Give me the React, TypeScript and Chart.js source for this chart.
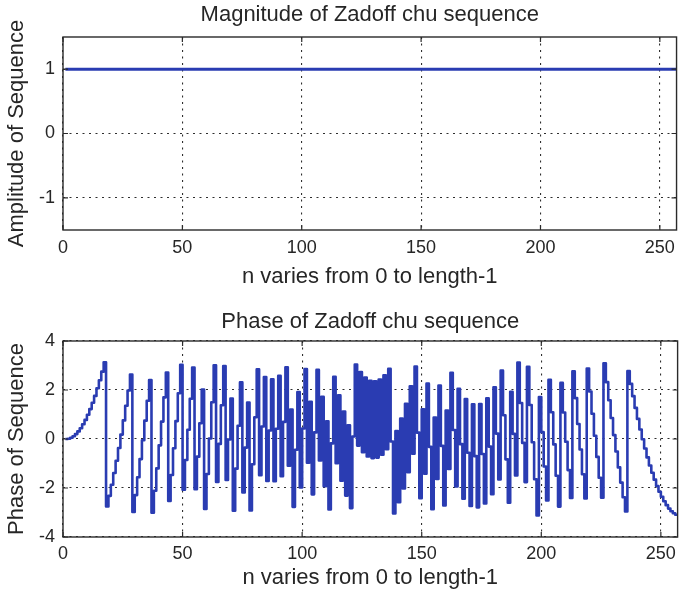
import React, { useEffect, useRef } from 'react';
import { Chart, registerables } from 'chart.js';

Chart.register(...registerables);

// MATLAB sample index (1-based position of n = 0 .. length-1)
const xIndex = [
  1, 2, 3, 4, 5, 6, 7, 8, 9, 10, 11, 12, 13, 14, 15, 16, 17, 18, 19, 20,
  21, 22, 23, 24, 25, 26, 27, 28, 29, 30, 31, 32, 33, 34, 35, 36, 37, 38, 39, 40,
  41, 42, 43, 44, 45, 46, 47, 48, 49, 50, 51, 52, 53, 54, 55, 56, 57, 58, 59, 60,
  61, 62, 63, 64, 65, 66, 67, 68, 69, 70, 71, 72, 73, 74, 75, 76, 77, 78, 79, 80,
  81, 82, 83, 84, 85, 86, 87, 88, 89, 90, 91, 92, 93, 94, 95, 96, 97, 98, 99, 100,
  101, 102, 103, 104, 105, 106, 107, 108, 109, 110, 111, 112, 113, 114, 115, 116, 117, 118, 119, 120,
  121, 122, 123, 124, 125, 126, 127, 128, 129, 130, 131, 132, 133, 134, 135, 136, 137, 138, 139, 140,
  141, 142, 143, 144, 145, 146, 147, 148, 149, 150, 151, 152, 153, 154, 155, 156, 157, 158, 159, 160,
  161, 162, 163, 164, 165, 166, 167, 168, 169, 170, 171, 172, 173, 174, 175, 176, 177, 178, 179, 180,
  181, 182, 183, 184, 185, 186, 187, 188, 189, 190, 191, 192, 193, 194, 195, 196, 197, 198, 199, 200,
  201, 202, 203, 204, 205, 206, 207, 208, 209, 210, 211, 212, 213, 214, 215, 216, 217, 218, 219, 220,
  221, 222, 223, 224, 225, 226, 227, 228, 229, 230, 231, 232, 233, 234, 235, 236, 237, 238, 239, 240,
  241, 242, 243, 244, 245, 246, 247, 248, 249, 250, 251, 252, 253, 254, 255, 256, 257,
];

// |x(n)| — constant amplitude
const magnitude = [
  1, 1, 1, 1, 1, 1, 1, 1, 1, 1, 1, 1, 1, 1, 1, 1, 1, 1, 1, 1,
  1, 1, 1, 1, 1, 1, 1, 1, 1, 1, 1, 1, 1, 1, 1, 1, 1, 1, 1, 1,
  1, 1, 1, 1, 1, 1, 1, 1, 1, 1, 1, 1, 1, 1, 1, 1, 1, 1, 1, 1,
  1, 1, 1, 1, 1, 1, 1, 1, 1, 1, 1, 1, 1, 1, 1, 1, 1, 1, 1, 1,
  1, 1, 1, 1, 1, 1, 1, 1, 1, 1, 1, 1, 1, 1, 1, 1, 1, 1, 1, 1,
  1, 1, 1, 1, 1, 1, 1, 1, 1, 1, 1, 1, 1, 1, 1, 1, 1, 1, 1, 1,
  1, 1, 1, 1, 1, 1, 1, 1, 1, 1, 1, 1, 1, 1, 1, 1, 1, 1, 1, 1,
  1, 1, 1, 1, 1, 1, 1, 1, 1, 1, 1, 1, 1, 1, 1, 1, 1, 1, 1, 1,
  1, 1, 1, 1, 1, 1, 1, 1, 1, 1, 1, 1, 1, 1, 1, 1, 1, 1, 1, 1,
  1, 1, 1, 1, 1, 1, 1, 1, 1, 1, 1, 1, 1, 1, 1, 1, 1, 1, 1, 1,
  1, 1, 1, 1, 1, 1, 1, 1, 1, 1, 1, 1, 1, 1, 1, 1, 1, 1, 1, 1,
  1, 1, 1, 1, 1, 1, 1, 1, 1, 1, 1, 1, 1, 1, 1, 1, 1, 1, 1, 1,
  1, 1, 1, 1, 1, 1, 1, 1, 1, 1, 1, 1, 1, 1, 1, 1, 1,
];

// angle(x(n)) in radians
const phase = [
  0, 0.01, 0.05, 0.11, 0.2, 0.31, 0.44, 0.6, 0.78, 0.99,
  1.22, 1.48, 1.76, 2.07, 2.4, 2.75, 3.13, -2.75, -2.32, -1.87,
  -1.39, -0.89, -0.37, 0.18, 0.76, 1.36, 1.98, 2.63, -2.98, -2.29,
  -1.56, -0.82, -0.05, 0.75, 1.56, 2.41, -3.01, -2.11, -1.2, -0.26,
  0.71, 1.7, 2.71, -2.53, -1.47, -0.38, 0.73, 1.87, 3.03, -2.07,
  -0.86, 0.38, 1.64, 2.92, -2.05, -0.72, 0.64, 2.02, -2.86, -1.43,
  0.02, 1.5, 3.01, -1.75, -0.2, 1.38, 2.98, -1.67, -0.02, 1.65,
  -2.93, -1.21, 0.54, 2.31, -2.18, -0.35, 1.49, -2.92, -1.03, 0.89,
  2.84, -1.48, 0.51, 2.53, -1.71, 0.35, 2.44, -1.72, 0.42, 2.58,
  -1.52, 0.7, 2.93, -1.09, 1.2, -2.77, -0.44, 1.92, -1.98, 0.43,
  2.86, -0.97, 1.52, -2.26, 0.27, 2.82, -0.88, 1.72, -1.93, 0.72,
  -2.88, -0.18, 2.54, -0.99, 1.78, -1.7, 1.12, -2.31, 0.56, -2.82,
  0.1, 3.04, -0.27, 2.73, -0.54, 2.51, -0.71, 2.38, -0.78, 2.36,
  -0.76, 2.43, -0.64, 2.6, -0.42, 2.87, -0.1, -3.04, 0.32, -2.58,
  0.83, -2.02, 1.44, -1.36, 2.15, -0.6, 2.96, 0.26, -2.42, 1.21,
  -1.42, 2.26, -0.32, -2.87, 0.88, -1.63, 2.18, -0.28, -2.71, 1.16,
  -1.22, 2.7, 0.37, -1.94, 2.05, -0.21, -2.44, 1.63, -0.56, -2.73,
  1.42, -0.7, -2.79, 1.43, -0.61, -2.63, 1.66, -0.31, -2.25, 2.11,
  0.22, -1.65, 2.79, 0.97, -0.83, -2.6, 1.93, 0.21, -1.49, 3.12,
  1.47, -0.16, -1.76, 2.95, 1.39, -0.13, -1.64, -3.12, 1.71, 0.28,
  -1.12, -2.51, 2.42, 1.09, -0.22, -1.5, -2.76, 2.29, 1.08, -0.11,
  -1.27, -2.41, 2.76, 1.67, 0.61, -0.43, -1.44, -2.43, 2.88, 1.94,
  1.03, 0.13, -0.73, -1.58, -2.4, 3.09, 2.32, 1.58, 0.86, 0.16,
  -0.51, -1.16, -1.78, -2.38, -2.96, 2.77, 2.25, 1.75, 1.27, 0.82,
  0.39, -0.01, -0.39, -0.75, -1.08, -1.38, -1.66, -1.92, -2.15, -2.36,
  -2.54, -2.7, -2.84, -2.95, -3.03, -3.09, -3.13,
];

const xTicks = [0, 50, 100, 150, 200, 250];
const magTicks = [-1, 0, 1];
const phaseTicks = [-4, -2, 0, 2, 4];

const X_MIN = 0;
const X_MAX = 257;

const FONT = 'Liberation Sans, Arial, Helvetica, sans-serif';
const TEXT = '#262626';
const BLUE = '#2a3cb2';
const GRID = '#2e2e2e';

const framePlugin = {
  id: 'matlabFrame',
  afterDatasetsDraw(chart: any) {
    const { ctx, chartArea: a, scales } = chart;
    ctx.save();
    ctx.strokeStyle = '#2a2a2a';
    ctx.lineWidth = 1.4;
    ctx.strokeRect(a.left, a.top, a.right - a.left, a.bottom - a.top);
    ctx.lineWidth = 1.2;
    const L = 5;
    ctx.beginPath();
    scales.x.ticks.forEach((t: any) => {
      const px = scales.x.getPixelForValue(t.value);
      ctx.moveTo(px, a.bottom);
      ctx.lineTo(px, a.bottom - L);
      ctx.moveTo(px, a.top);
      ctx.lineTo(px, a.top + L);
    });
    scales.y.ticks.forEach((t: any) => {
      const py = scales.y.getPixelForValue(t.value);
      ctx.moveTo(a.left, py);
      ctx.lineTo(a.left + L, py);
      ctx.moveTo(a.right, py);
      ctx.lineTo(a.right - L, py);
    });
    ctx.stroke();
    ctx.restore();
  },
};

function makeConfig(opts: {
  title: string;
  yTitle: string;
  values: number[];
  yMin: number;
  yMax: number;
  yTicks: number[];
  titlePad: { top: number; bottom: number };
  xTickPad: number;
  xTitlePad: number;
  xHeight: number;
  stepped: boolean;
}) {
  return {
    type: 'line' as const,
    data: {
      datasets: [
        {
          data: xIndex.map((x, i) => ({ x, y: opts.values[i] })),
          borderColor: BLUE,
          backgroundColor: BLUE,
          borderWidth: opts.stepped ? 2.6 : 3,
          borderJoinStyle: 'round' as const,
          pointRadius: 0,
          fill: false,
          stepped: opts.stepped ? ('before' as const) : false,
          tension: 0,
        },
      ],
    },
    options: {
      animation: false as const,
      responsive: false,
      maintainAspectRatio: false,
      layout: { padding: { left: 0, right: 2, top: 0, bottom: 0 } },
      plugins: {
        legend: { display: false },
        tooltip: { enabled: false },
        title: {
          display: true,
          fullSize: false,
          text: opts.title,
          color: TEXT,
          font: { family: FONT, size: 22, weight: 'normal' as const },
          padding: opts.titlePad,
        },
      },
      scales: {
        x: {
          type: 'linear' as const,
          min: X_MIN,
          max: X_MAX,
          afterBuildTicks: (s: any) => {
            s.ticks = xTicks.map((v) => ({ value: v }));
          },
          afterFit: (s: any) => {
            s.height = opts.xHeight;
          },
          grid: { color: GRID, lineWidth: 1.1, drawTicks: false },
          border: { display: false, dash: [2, 4.5] },
          ticks: {
            color: TEXT,
            padding: opts.xTickPad,
            maxRotation: 0,
            autoSkip: false,
            font: { family: FONT, size: 18 },
            callback: (v: any) => String(v),
          },
          title: {
            display: true,
            text: 'n varies from 0 to length-1',
            color: TEXT,
            font: { family: FONT, size: 22 },
            padding: { top: 0, bottom: opts.xTitlePad },
          },
        },
        y: {
          type: 'linear' as const,
          min: opts.yMin,
          max: opts.yMax,
          afterBuildTicks: (s: any) => {
            s.ticks = opts.yTicks.map((v) => ({ value: v }));
          },
          afterFit: (s: any) => {
            s.width = 63;
          },
          grid: { color: GRID, lineWidth: 1.1, drawTicks: false },
          border: { display: false, dash: [2, 4.5] },
          ticks: {
            color: TEXT,
            padding: 8,
            autoSkip: false,
            font: { family: FONT, size: 18 },
            callback: (v: any) => String(v),
          },
          title: {
            display: true,
            text: opts.yTitle,
            color: TEXT,
            font: { family: FONT, size: 22 },
            padding: { top: 3.8, bottom: 0 },
          },
        },
      },
    },
    plugins: [framePlugin],
  };
}

function ChartCanvas({ config, width, height }: { config: any; width: number; height: number }) {
  const ref = useRef<HTMLCanvasElement | null>(null);
  useEffect(() => {
    if (!ref.current) return;
    const chart = new Chart(ref.current, config);
    return () => chart.destroy();
  }, [config]);
  return <canvas ref={ref} width={width} height={height} style={{ display: 'block', width, height }} />;
}

const topConfig = makeConfig({
  title: 'Magnitude of Zadoff chu sequence',
  yTitle: 'Amplitude of Sequence',
  values: magnitude,
  yMin: -1.5,
  yMax: 1.5,
  yTicks: magTicks,
  titlePad: { top: 1.8, bottom: 8.8 },
  xTickPad: 7,
  xTitlePad: 1.8,
  xHeight: 62,
  stepped: false,
});

const bottomConfig = makeConfig({
  title: 'Phase of Zadoff chu sequence',
  yTitle: 'Phase of Sequence',
  values: phase,
  yMin: -4,
  yMax: 4,
  yTicks: phaseTicks,
  titlePad: { top: 16.8, bottom: 5.8 },
  xTickPad: 6,
  xTitlePad: 7.8,
  xHeight: 62,
  stepped: true,
});

export default function App() {
  return (
    <div style={{ position: 'absolute', left: 0, top: 0, width: 682, height: 599, background: '#ffffff' }}>
      <ChartCanvas config={topConfig} width={682} height={292} />
      <ChartCanvas config={bottomConfig} width={682} height={307} />
    </div>
  );
}
